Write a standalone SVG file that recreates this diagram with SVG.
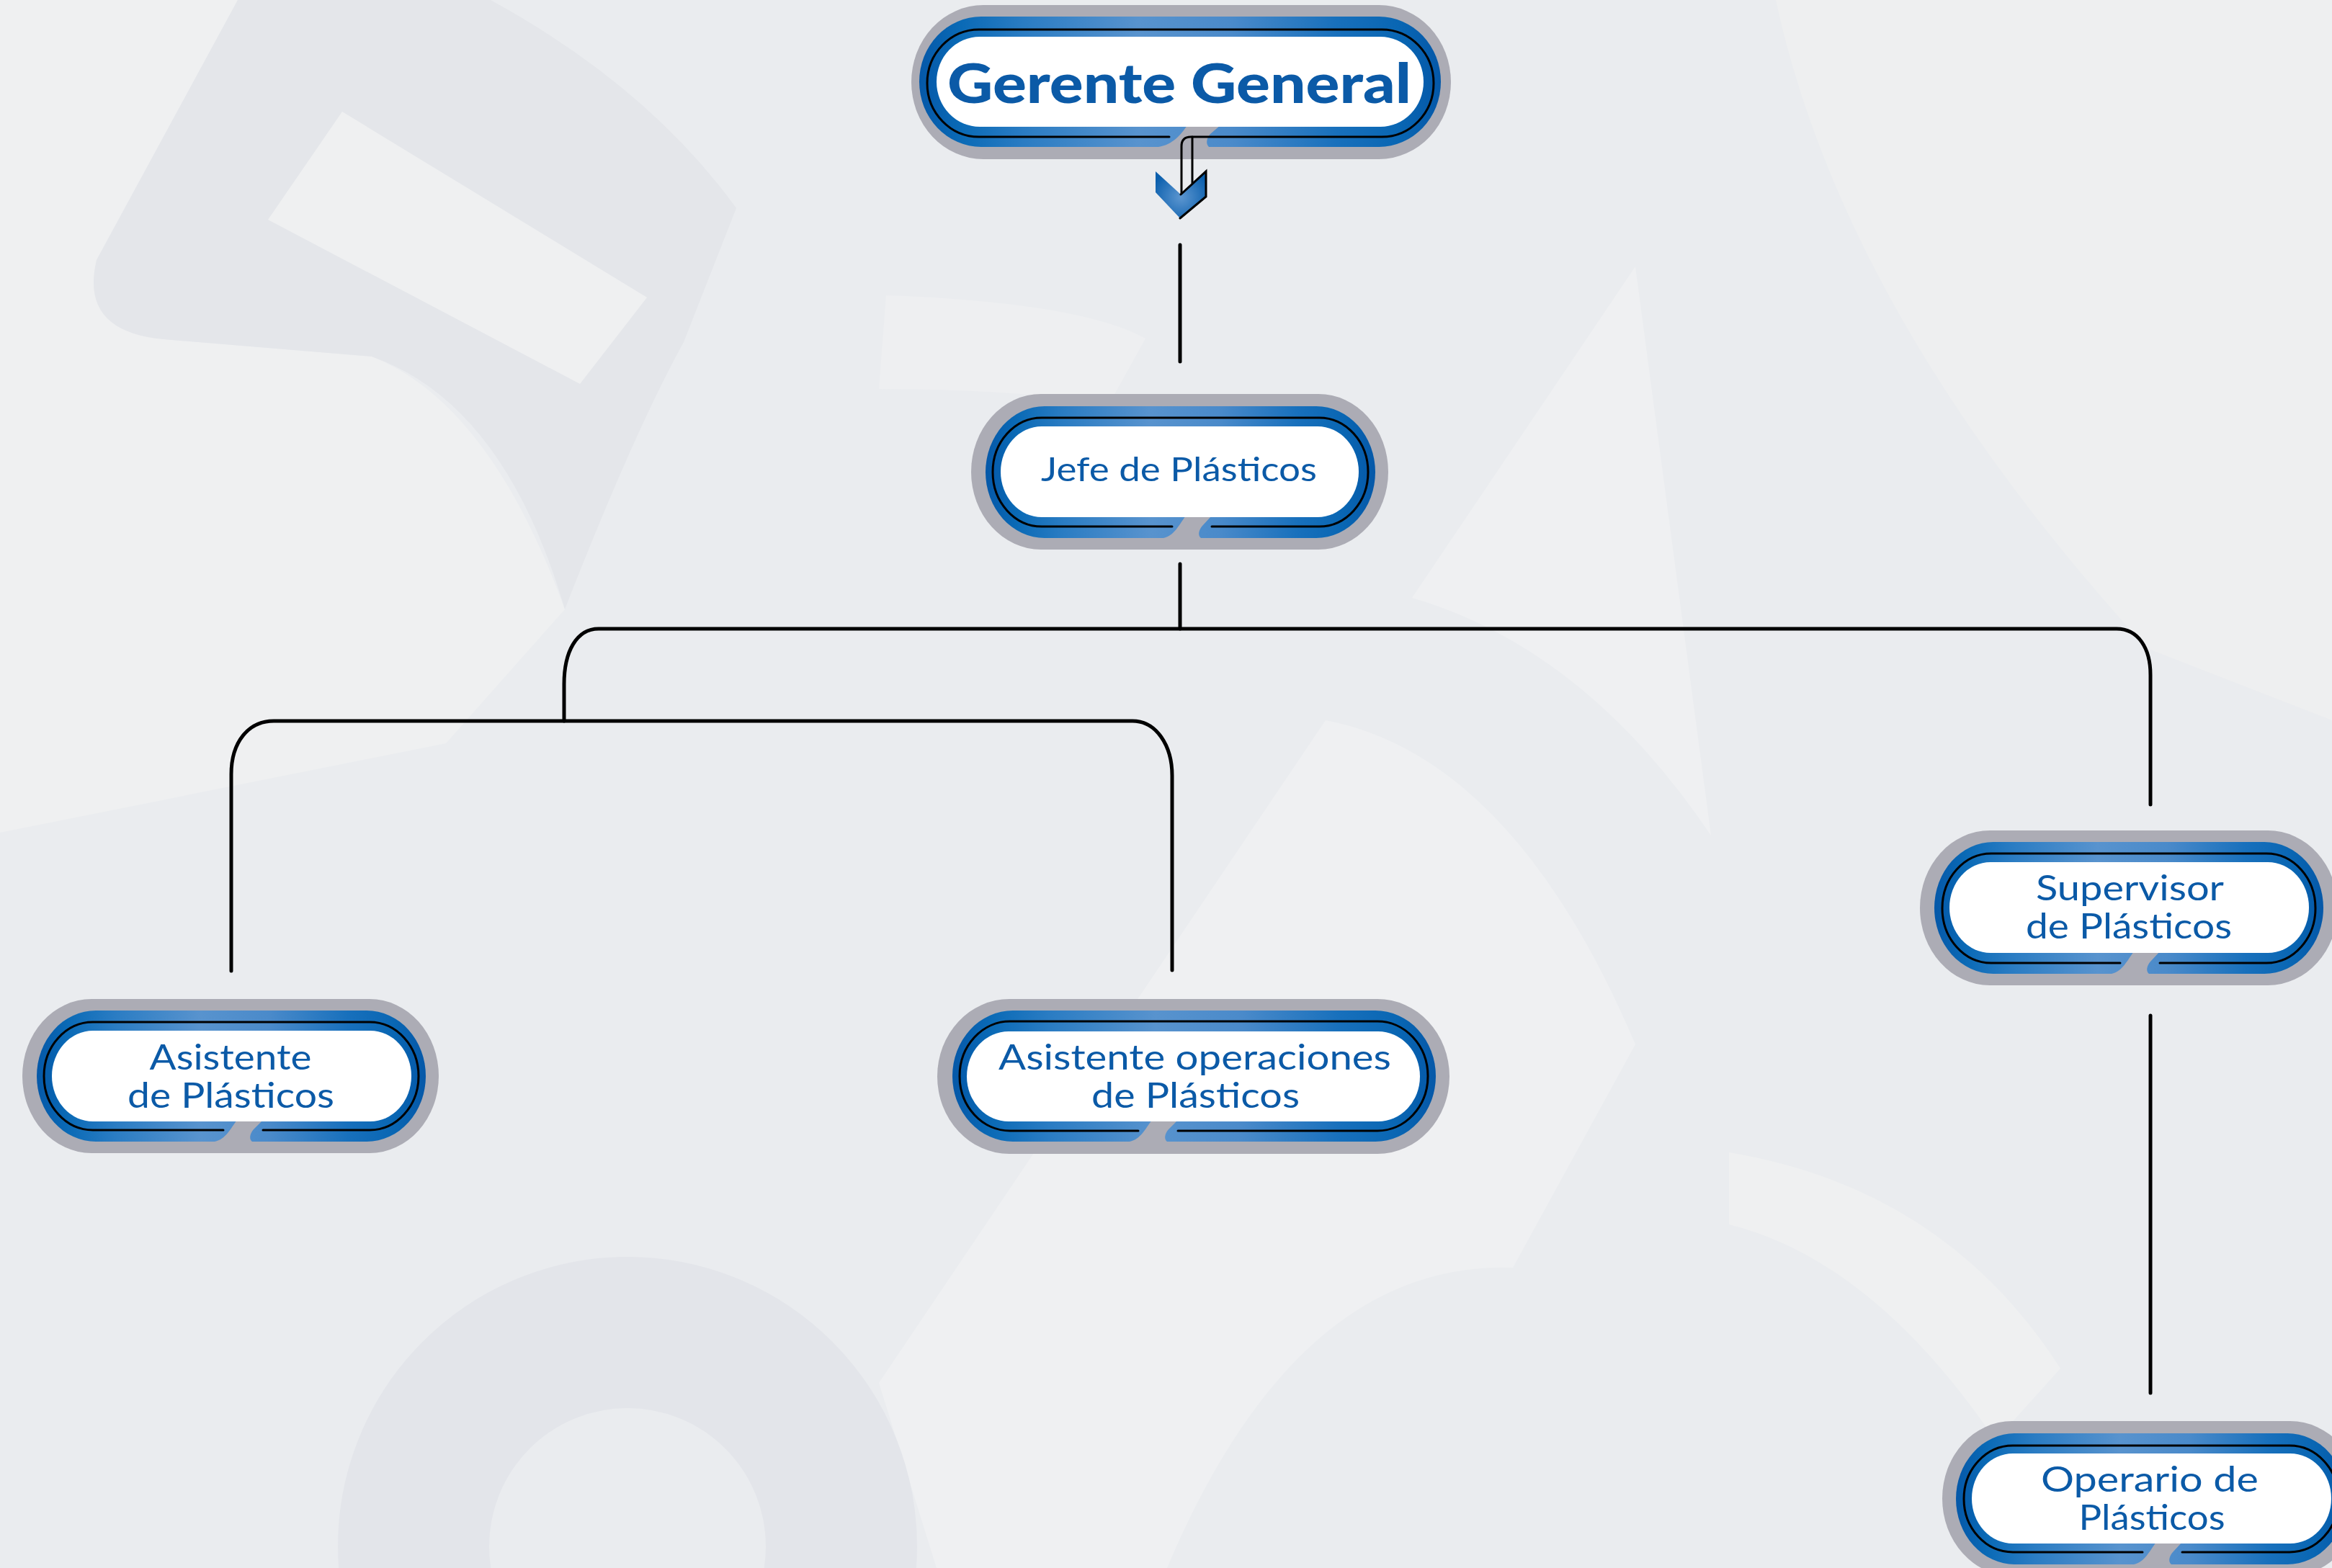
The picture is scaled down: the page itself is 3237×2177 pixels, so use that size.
<svg xmlns="http://www.w3.org/2000/svg" width="3237" height="2177" viewBox="0 0 3237 2177">
  <defs>
    <linearGradient id="blue" x1="0" y1="0" x2="1" y2="0">
      <stop offset="0" stop-color="#0558a8"/>
      <stop offset="0.08" stop-color="#0a6ab6"/>
      <stop offset="0.2" stop-color="#2a7cc3"/>
      <stop offset="0.42" stop-color="#5893ce"/>
      <stop offset="0.6" stop-color="#4a8aca"/>
      <stop offset="0.8" stop-color="#1870bc"/>
      <stop offset="0.92" stop-color="#0966b3"/>
      <stop offset="1" stop-color="#0558a8"/>
    </linearGradient>
    <radialGradient id="chev" cx="0.5" cy="0.55" r="0.6">
      <stop offset="0" stop-color="#5c96d0"/>
      <stop offset="1" stop-color="#0b5fad"/>
    </radialGradient>
    <style>
      .grey { fill: #acacb5; }
      .band { fill: url(#blue); }
      .white { fill: #ffffff; }
      .ink { fill: none; stroke: #000000; stroke-width: 3; stroke-linecap: round; }
      .lbl { font-family: Lato, "Open Sans", "Liberation Sans", sans-serif; fill: #0b5aa7; text-anchor: middle; font-size: 49px; }
      .conn { fill: none; stroke: #000000; stroke-width: 5; stroke-linecap: round; }
    </style>
  </defs>

  <!-- background -->
  <g id="background">
    <rect x="0" y="0" width="3237" height="2177" fill="#eaecef"/>
    <path d="M0,0 H330 L134,361 Q130,444 227,471 L516,495 Q680,560 784,846 L619,1032 L0,1156 Z" fill="#eff0f1"/>
    <path d="M330,0 H681 Q900,120 1022,289 L949,475 Q880,600 784,846 Q700,560 516,495 L227,471 Q110,460 134,361 Z" fill="#e4e6ea"/>
    <path d="M475,155 L898,413 L805,533 L372,305 Z" fill="#eff0f1"/>
    <path d="M1230,410 Q1500,420 1590,470 L1540,560 Q1400,540 1220,540 Z" fill="#eeeff1"/>
    <path d="M1960,830 L2270,370 L2375,1160 Q2200,900 1960,830 Z" fill="#eff0f2"/>
    <path d="M2465,0 H3237 V1000 L2980,900 Q2560,440 2465,0 Z" fill="#eeeff0"/>
    <path d="M1220,1920 L1840,1000 Q2100,1050 2270,1450 L2100,1760 Q1800,1750 1620,2177 L1300,2177 Z" fill="#eff0f2"/>
    <circle cx="871" cy="2147" r="297" fill="none" stroke="#e3e5ea" stroke-width="210"/>
    <path d="M2400,1600 Q2700,1650 2860,1900 L2770,2000 Q2600,1750 2400,1700 Z" fill="#eff0f1"/>
  </g>

  <!-- connectors -->
  <g id="connectors">
    <path class="conn" d="M1638,340 V502"/>
    <path class="conn" d="M1638,783 V873"/>
    <path class="conn" d="M783,1001 V950 C783,905 800,873 831,873 H2938 C2968,873 2985,900 2985,937 V1117"/>
    <path class="conn" d="M321,1348 V1075 C321,1030 345,1001 380,1001 H1572 C1605,1001 1627,1035 1627,1077 V1347"/>
    <path class="conn" d="M2985,1410 V1934"/>
  </g>

  <!-- Gerente General -->
  <g id="node-gerente">
    <rect class="grey" x="1265" y="7" width="749" height="214" rx="100" ry="107"/>
    <rect class="band" x="1276" y="23" width="724" height="181" rx="86" ry="90.5"/>
    <path class="grey" d="M1648,174 C1640,186 1628,201 1608,204 L1678,204 C1674,200 1674,193 1680,186 L1694,174 Z"/>
    <path class="ink" d="M1623,190 H1359 A72 74.5 0 0 1 1287,115.5 A72 74.5 0 0 1 1359,41 H1918 A72 74.5 0 0 1 1990,115.5 A72 74.5 0 0 1 1918,190 H1653 Q1640,190 1640,203 V270"/>
    <path class="ink" d="M1655,190 V254"/>
    <rect class="white" x="1300" y="51" width="676" height="125" rx="60" ry="62.5"/>
    <polygon points="1604,238 1639,270 1674,238 1674,273 1638,303 1604,267" fill="url(#chev)"/>
    <polyline class="ink" points="1639,270 1674,238 1674,273 1638,303"/>
    <text class="lbl" x="1637" y="143" font-weight="900" style="font-size:77px" textLength="644" lengthAdjust="spacingAndGlyphs">Gerente General</text>
  </g>

  <!-- Jefe de Plásticos -->
  <g id="node-jefe">
    <rect class="grey" x="1348" y="547" width="579" height="216" rx="97" ry="108"/>
    <rect class="band" x="1368" y="564" width="541" height="183" rx="82" ry="91.5"/>
    <path class="grey" d="M1646,716 C1637,728 1630,744 1615,747 L1667,747 C1663,744 1663,737 1669,730 L1682,716 Z"/>
    <path class="ink" d="M1627,731 H1446 A68 75.5 0 0 1 1378,655.5 A68 75.5 0 0 1 1446,580 H1831 A68 75.5 0 0 1 1899,655.5 A68 75.5 0 0 1 1831,731 H1682"/>
    <rect class="white" x="1389" y="592" width="497" height="126" rx="57" ry="63"/>
    <text class="lbl" x="1636.5" y="668" style="font-size:46px" textLength="383" lengthAdjust="spacingAndGlyphs">Jefe de Plásticos</text>
  </g>

  <!-- Asistente de Plásticos -->
  <g id="node-asistente">
    <rect class="grey" x="31" y="1387" width="578" height="214" rx="96" ry="107"/>
    <rect class="band" x="51" y="1403" width="540" height="182" rx="82" ry="91"/>
    <path class="grey" d="M329,1555 C320,1567 313,1582 298,1585 L350,1585 C346,1582 346,1575 352,1568 L365,1555 Z"/>
    <path class="ink" d="M310,1569 H129 A68 75 0 0 1 61,1494 A68 75 0 0 1 129,1419 H513 A68 75 0 0 1 581,1494 A68 75 0 0 1 513,1569 H365"/>
    <rect class="white" x="72" y="1431" width="499" height="126" rx="57" ry="63"/>
    <text class="lbl"><tspan x="320" y="1485" textLength="225" lengthAdjust="spacingAndGlyphs">Asistente</tspan><tspan x="320.5" y="1538" textLength="287" lengthAdjust="spacingAndGlyphs">de Plásticos</tspan></text>
  </g>

  <!-- Asistente operaciones de Plásticos -->
  <g id="node-asistente-operaciones">
    <rect class="grey" x="1301" y="1387" width="711" height="215" rx="100" ry="107.5"/>
    <rect class="band" x="1322" y="1403" width="671" height="182" rx="84" ry="91"/>
    <path class="grey" d="M1599,1555 C1590,1567 1583,1582 1568,1585 L1620,1585 C1616,1582 1616,1575 1622,1568 L1635,1555 Z"/>
    <path class="ink" d="M1580,1570 H1402 A70 76 0 0 1 1332,1494 A70 76 0 0 1 1402,1418 H1912 A70 76 0 0 1 1982,1494 A70 76 0 0 1 1912,1570 H1635"/>
    <rect class="white" x="1342" y="1432" width="629" height="125" rx="58" ry="62.5"/>
    <text class="lbl"><tspan x="1658.5" y="1485" textLength="545" lengthAdjust="spacingAndGlyphs">Asistente operaciones</tspan><tspan x="1659.5" y="1538" textLength="289" lengthAdjust="spacingAndGlyphs">de Plásticos</tspan></text>
  </g>

  <!-- Supervisor de Plásticos -->
  <g id="node-supervisor">
    <rect class="grey" x="2665" y="1153" width="580" height="215" rx="97" ry="107.5"/>
    <rect class="band" x="2685" y="1169" width="540" height="183" rx="82" ry="91.5"/>
    <path class="grey" d="M2962,1321 C2953,1333 2946,1349 2931,1352 L2983,1352 C2979,1349 2979,1342 2985,1335 L2998,1321 Z"/>
    <path class="ink" d="M2943,1337 H2764 A68 76 0 0 1 2696,1261 A68 76 0 0 1 2764,1185 H3146 A68 76 0 0 1 3214,1261 A68 76 0 0 1 3146,1337 H2998"/>
    <rect class="white" x="2706" y="1197" width="499" height="126" rx="57" ry="63"/>
    <text class="lbl"><tspan x="2956.5" y="1250" textLength="261" lengthAdjust="spacingAndGlyphs">Supervisor</tspan><tspan x="2955" y="1303" textLength="286" lengthAdjust="spacingAndGlyphs">de Plásticos</tspan></text>
  </g>

  <!-- Operario de Plásticos -->
  <g id="node-operario">
    <rect class="grey" x="2696" y="1973" width="580" height="215" rx="97" ry="107.5"/>
    <rect class="band" x="2715" y="1990" width="542" height="182" rx="82" ry="91"/>
    <path class="grey" d="M2993,2141 C2984,2153 2977,2169 2962,2172 L3014,2172 C3010,2169 3010,2162 3016,2155 L3029,2141 Z"/>
    <path class="ink" d="M2974,2155 H2794 A68 74 0 0 1 2726,2081 A68 74 0 0 1 2794,2007 H3178 A68 74 0 0 1 3246,2081 A68 74 0 0 1 3178,2155 H3029"/>
    <rect class="white" x="2737" y="2018" width="499" height="125" rx="57" ry="62.5"/>
    <text class="lbl"><tspan x="2984" y="2071" textLength="302" lengthAdjust="spacingAndGlyphs">Operario de</tspan><tspan x="2987" y="2124" textLength="203" lengthAdjust="spacingAndGlyphs">Plásticos</tspan></text>
  </g>
</svg>
